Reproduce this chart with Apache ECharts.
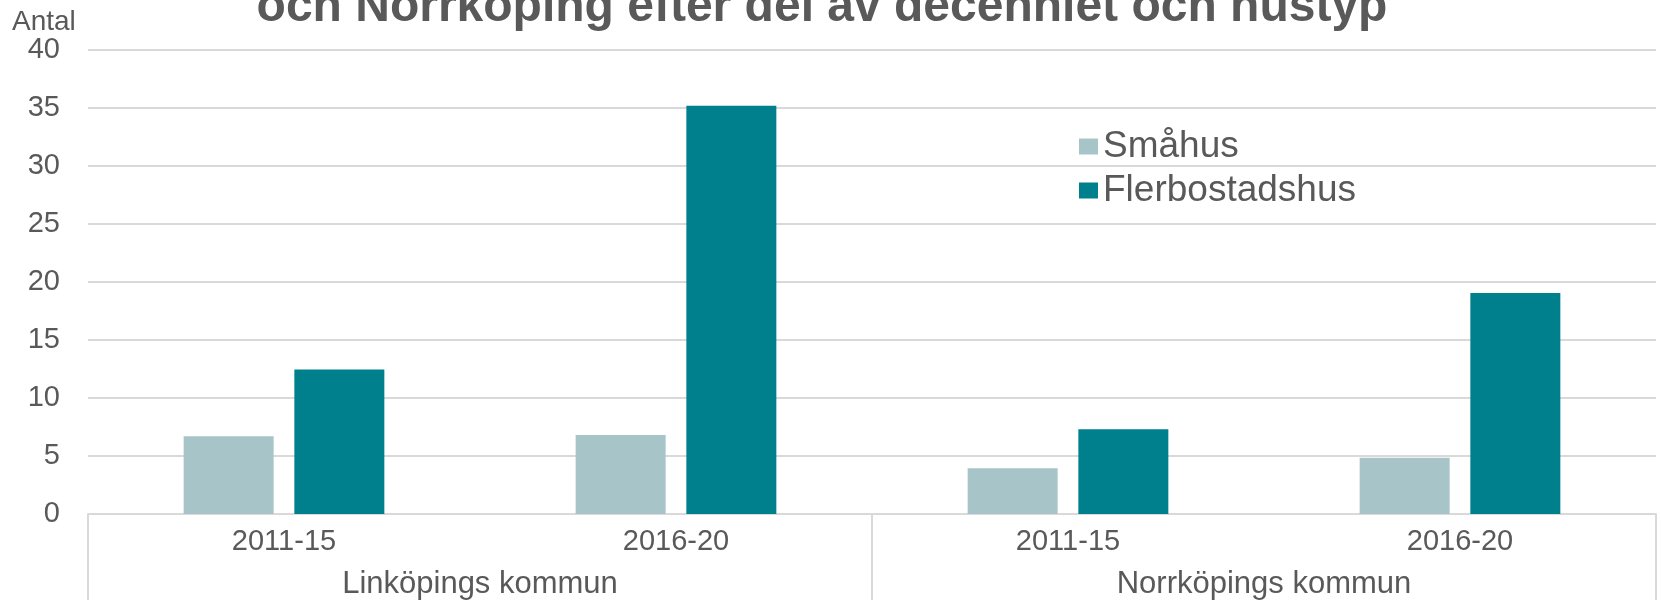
<!DOCTYPE html>
<html>
<head>
<meta charset="utf-8">
<script src="https://cdn.jsdelivr.net/npm/echarts@6/dist/echarts.min.js"></script>
<style>
  html, body { margin: 0; padding: 0; background: #fff; }
  #main { width: 1661px; height: 600px; }
</style>
</head>
<body>
<div id="main"></div>
<script>
var periods = ['2011-15', '2016-20', '2011-15', '2016-20'];
var kommuner = ['Linköpings kommun', 'Norrköpings kommun'];
var smahus = [6.7, 6.8, 3.95, 4.85];
var flerbostadshus = [12.45, 35.2, 7.3, 19.05];

var textColor = '#595959';
var lineColor = '#d9d9d9';
var font = 'Liberation Sans, Arial, sans-serif';

var myChart = echarts.init(document.getElementById('main'));

var option = {
    animation: false,
    textStyle: { fontFamily: font },
    graphic: [
        {
            // title is cut off at the top in the original
            type: 'text',
            x: 822, y: 8,
            style: {
                text: 'och Norrköping efter del av decenniet och hustyp',
                font: 'bold 48px ' + font,
                fill: textColor,
                align: 'center',
                verticalAlign: 'middle'
            }
        },
        {
            type: 'text',
            x: 12, y: 22,
            style: {
                text: 'Antal',
                font: '28px ' + font,
                fill: textColor,
                align: 'left',
                verticalAlign: 'middle'
            }
        }
    ],
    legend: {
        orient: 'vertical',
        left: 1074,
        top: 123,
        icon: 'rect',
        itemWidth: 19,
        itemHeight: 16,
        itemGap: 7,
        textStyle: { color: textColor, fontSize: 37 },
        data: ['Småhus', 'Flerbostadshus']
    },
    grid: { left: 88, right: 5, top: 50, bottom: 85 },
    xAxis: [
        {
            type: 'category',
            data: periods,
            axisLine: { lineStyle: { color: lineColor, width: 2 } },
            axisTick: { show: false },
            axisLabel: { color: textColor, fontSize: 29, margin: 13 }
        },
        {
            type: 'category',
            data: kommuner,
            position: 'bottom',
            axisLine: { show: false },
            axisTick: { show: true, length: 90, lineStyle: { color: lineColor, width: 2 } },
            axisLabel: { color: textColor, fontSize: 31, margin: 55 }
        }
    ],
    yAxis: {
        type: 'value',
        min: 0,
        max: 40,
        interval: 5,
        axisLine: { show: false },
        axisTick: { show: false },
        axisLabel: { color: textColor, fontSize: 29, margin: 28 },
        splitLine: { lineStyle: { color: lineColor, width: 2 } }
    },
    series: [
        {
            name: 'Småhus',
            type: 'bar',
            barWidth: 90,
            barGap: '23%',
            itemStyle: { color: '#a7c4c9' },
            data: smahus
        },
        {
            name: 'Flerbostadshus',
            type: 'bar',
            barWidth: 90,
            itemStyle: { color: '#00808c' },
            data: flerbostadshus
        }
    ]
};

myChart.setOption(option);
</script>
</body>
</html>
